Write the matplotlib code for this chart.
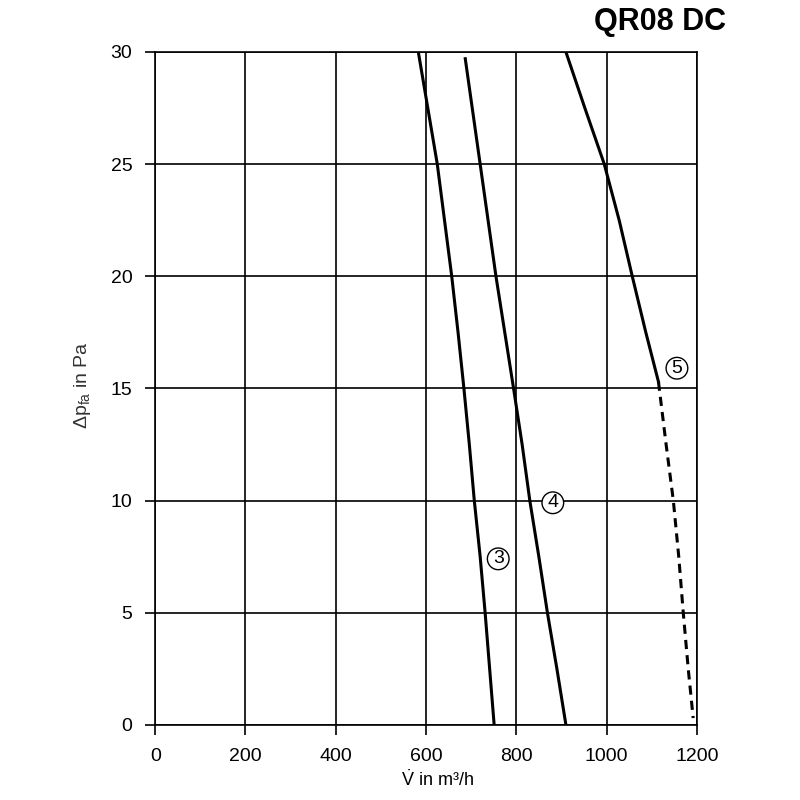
import matplotlib
matplotlib.use("Agg")
import matplotlib.pyplot as plt

plt.rcParams['font.family'] = ['Liberation Sans', 'DejaVu Sans']
plt.rcParams['mathtext.fontset'] = 'custom'
plt.rcParams['mathtext.rm'] = 'Liberation Sans'
plt.rcParams['mathtext.it'] = 'Liberation Sans'
plt.rcParams['mathtext.default'] = 'regular'

# curve 3 (V in m3/h, dp in Pa)
v3 = [583, 604, 625, 641, 657, 671, 684, 696, 707, 720, 731, 741, 751]
p3 = [30, 27.5, 25, 22.5, 20, 17.5, 15, 12.5, 10, 7.5, 5, 2.5, 0]
# curve 4
v4 = [687, 720, 755, 794, 813, 830, 850, 869, 890, 910]
p4 = [29.7, 25, 20, 15, 12.5, 10, 7.5, 5, 2.5, 0]
# curve 5, solid part and dashed part
v5 = [910, 952, 995, 1028, 1057, 1087, 1115]
p5 = [30, 27.5, 25, 22.5, 20, 17.5, 15.3]
v5d = [1115, 1132, 1148, 1160, 1170, 1181, 1192]
p5d = [15.3, 12.5, 10, 7.5, 5, 2.5, 0.3]

labels = ["3", "4", "5"]
label_v = [760, 881, 1156]
label_p = [7.4, 9.9, 15.9]

xticks = [0, 200, 400, 600, 800, 1000, 1200]
yticks = [0, 5, 10, 15, 20, 25, 30]

fig = plt.figure(figsize=(8, 8), dpi=100)
ax = fig.add_axes([0.194, 0.094, 0.677, 0.841])

ax.plot(v3, p3, color="black", lw=2.2)
ax.plot(v4, p4, color="black", lw=2.2)
ax.plot(v5, p5, color="black", lw=2.2)
ax.plot(v5d, p5d, color="black", lw=2.2, linestyle=(0, (3, 2)))

for lab, lv, lp in zip(labels, label_v, label_p):
    ax.text(lv, lp, lab, fontsize=14, ha="center", va="center",
            bbox=dict(boxstyle="circle,pad=0.12", fc="white", ec="black", lw=1))

ax.set_xlim(0, 1200)
ax.set_ylim(0, 30)
ax.set_xticks(xticks)
ax.set_yticks(yticks)
ax.grid(True, color="black", lw=1.2)
for s in ax.spines.values():
    s.set_linewidth(1.2)
ax.tick_params(direction="out", length=7.5, width=1.2, labelsize=14)
ax.tick_params(axis="y", pad=9)
ax.tick_params(axis="x", pad=9)

ax.set_xlabel(r"$\dot{V}$ in m³/h", fontsize=13)
ax.xaxis.set_label_coords(0.522, -0.066)
ax.set_ylabel(r"$\Delta$p$_{fa}$ in Pa", fontsize=14, color="#333333")
ax.yaxis.set_label_coords(-0.115, 0.505)

fig.text(0.9075, 0.973, "QR08 DC", fontsize=22, fontweight="bold",
         ha="right", va="center")

fig.savefig("out.png", dpi=100)
